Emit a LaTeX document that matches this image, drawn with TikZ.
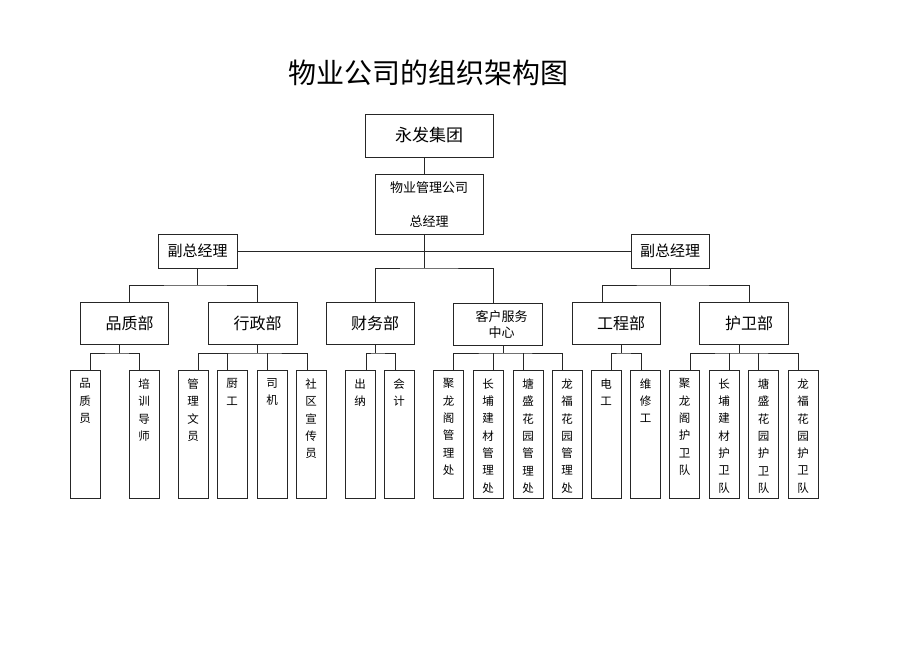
\documentclass[tikz,border=0pt]{standalone}
\usepackage{fontspec}
\newfontfamily\cjk{Noto Sans CJK SC}
\begin{document}
\begin{tikzpicture}[x=1pt,y=-1pt,
  wire/.style={draw=black!85,line width=0.9pt},
  frame/.style={draw=black!85,line width=0.9pt,inner sep=0pt,align=center},
  vpbox/.style={frame,minimum height=34pt,font=\cjk\fontsize{15}{18}\selectfont},
  depbox/.style={frame,minimum height=42pt,font=\cjk\fontsize{16}{18}\selectfont},
  leafbox/.style={frame,minimum width=30pt,minimum height=128pt},
  leaftxt/.style={inner sep=0pt,anchor=north,align=center,font=\cjk\fontsize{11.5}{17.3}\selectfont}]
\useasboundingbox[fill=white] (0,0) rectangle (920,651);

\node[font=\cjk\fontsize{28}{30}\selectfont] (title) at (428,73) {物业公司的组织架构图};

\node[frame,minimum width=128pt,minimum height=43pt,font=\cjk\fontsize{17}{20}\selectfont] (jt) at (429,135.5) {永发集团};
\node[frame,minimum width=108pt,minimum height=60pt,font=\cjk\fontsize{13}{16}\selectfont] (wy) at (429,204) {物业管理公司\\[18pt]总经理};

\node[vpbox,minimum width=79pt] (vp1) at (197.5,251) {副总经理};
\node[vpbox,minimum width=78pt] (vp2) at (670,251) {副总经理};

\node[depbox,minimum width=88pt] (pz) at (124,323) {\hspace*{11pt}品质部};
\node[depbox,minimum width=89pt] (xz) at (252.5,323) {\hspace*{10pt}行政部};
\node[depbox,minimum width=88pt] (cw) at (370,323) {\hspace*{10pt}财务部};
\node[depbox,minimum width=89pt,font=\cjk\fontsize{13}{16}\selectfont] (kf) at (497.5,324) {\hspace*{8pt}客户服务\\\hspace*{8pt}中心};
\node[depbox,minimum width=88pt] (gc) at (616,323) {\hspace*{10pt}工程部};
\node[depbox,minimum width=89pt] (hw) at (743.5,323) {\hspace*{11pt}护卫部};

\foreach \i/\x/\t in {
  1/85/{品\\质\\员},
  2/144/{培\\训\\导\\师},
  3/193/{管\\理\\文\\员},
  4/232/{厨\\工},
  5/272/{司\\机},
  6/311/{社\\区\\宣\\传\\员},
  7/360/{出\\纳},
  8/399/{会\\计},
  9/448.5/{聚\\龙\\阁\\管\\理\\处},
  10/488/{长\\埔\\建\\材\\管\\理\\处},
  11/528/{塘\\盛\\花\\园\\管\\理\\处},
  12/567/{龙\\福\\花\\园\\管\\理\\处},
  13/606/{电\\工},
  14/645.5/{维\\修\\工},
  15/684.5/{聚\\龙\\阁\\护\\卫\\队},
  16/724/{长\\埔\\建\\材\\护\\卫\\队},
  17/763.5/{塘\\盛\\花\\园\\护\\卫\\队},
  18/803/{龙\\福\\花\\园\\护\\卫\\队}} {
  \node[leafbox] (l\i) at (\x,434) {};
  \node[leaftxt] (t\i) at ([yshift=-9pt]l\i.north) {\t};
}

% top connectors
\draw[wire] ([xshift=-5pt]jt.south) -- ([xshift=-5pt]wy.north);
\coordinate (hub) at (424,268);
\draw[wire] ([xshift=-5pt]wy.south) -- (hub);
\draw[wire] (vp1.east) -- (vp2.west);
\draw[wire] ([xshift=5pt]cw.north) |- (hub) -| ([xshift=-4.5pt]kf.north);

\coordinate (b1) at (197.5,285);
\draw[wire] (vp1.south) -- (b1);
\draw[wire] ([xshift=5pt]pz.north) |- (b1) -| ([xshift=4.5pt]xz.north);
\coordinate (b2) at (670,285);
\draw[wire] (vp2.south) -- (b2);
\draw[wire] ([xshift=-14pt]gc.north) |- (b2) -| ([xshift=5.5pt]hw.north);

% department to leaves
\coordinate (d1) at (119,353);
\draw[wire] ([xshift=-5pt]pz.south) -- (d1);
\draw[wire] ([xshift=5pt]l1.north) |- (d1) -| ([xshift=-5pt]l2.north);

\coordinate (d2) at (257,353);
\draw[wire] ([xshift=4.5pt]xz.south) -- (d2);
\draw[wire] ([xshift=5pt]l3.north) |- (d2) -| ([xshift=-4pt]l6.north);
\draw[wire] ([xshift=-5pt]l4.north) -- ++(0,-17);
\draw[wire] ([xshift=-5pt]l5.north) -- ++(0,-17);

\coordinate (d3) at (375,353);
\draw[wire] ([xshift=5pt]cw.south) -- (d3);
\draw[wire] ([xshift=6pt]l7.north) |- (d3) -| ([xshift=-4pt]l8.north);

\coordinate (d4) at (503,353);
\draw[wire] ([xshift=5.5pt]kf.south) -- (d4);
\draw[wire] ([xshift=4.5pt]l9.north) |- (d4) -| ([xshift=-5pt]l12.north);
\draw[wire] ([xshift=5pt]l10.north) -- ++(0,-17);
\draw[wire] ([xshift=-5pt]l11.north) -- ++(0,-17);

\coordinate (d5) at (621,353);
\draw[wire] ([xshift=5pt]gc.south) -- (d5);
\draw[wire] ([xshift=5pt]l13.north) |- (d5) -| ([xshift=-4.5pt]l14.north);

\coordinate (d6) at (739,353);
\draw[wire] ([xshift=-4.5pt]hw.south) -- (d6);
\draw[wire] ([xshift=5.5pt]l15.north) |- (d6) -| ([xshift=-5pt]l18.north);
\draw[wire] ([xshift=5pt]l16.north) -- ++(0,-17);
\draw[wire] ([xshift=-5.5pt]l17.north) -- ++(0,-17);
\end{tikzpicture}
\end{document}
